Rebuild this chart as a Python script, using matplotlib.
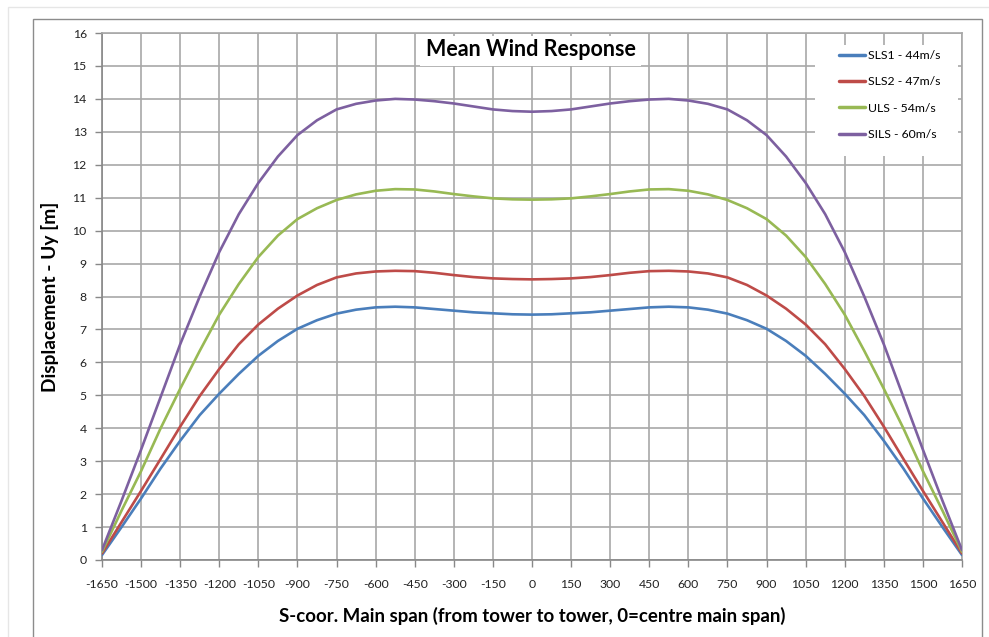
#!/usr/bin/env python3
"""Mean wind response of the main span: lateral displacement Uy along the span."""

import matplotlib
matplotlib.use("Agg")
import matplotlib.pyplot as plt
from matplotlib.patches import Rectangle

# S-coordinate along the main span [m], 75 m steps
s_coor = [-1650, -1575, -1500, -1425, -1350, -1275, -1200, -1125, -1050, -975,
          -900, -825, -750, -675, -600, -525, -450, -375, -300, -225, -150, -75,
          0, 75, 150, 225, 300, 375, 450, 525, 600, 675, 750, 825, 900, 975,
          1050, 1125, 1200, 1275, 1350, 1425, 1500, 1575, 1650]

# displacement Uy [m]
uy_sls1 = [0.15, 1.00, 1.87, 2.78, 3.62, 4.40, 5.05, 5.65, 6.20, 6.65,
           7.02, 7.28, 7.48, 7.60, 7.67, 7.69, 7.67, 7.62, 7.57, 7.52, 7.49, 7.46,
           7.45, 7.46, 7.49, 7.52, 7.57, 7.62, 7.67, 7.69, 7.67, 7.60, 7.48, 7.28,
           7.02, 6.65, 6.20, 5.65, 5.05, 4.40, 3.62, 2.78, 1.87, 1.00, 0.15]
uy_sls2 = [0.20, 1.15, 2.10, 3.07, 4.05, 4.98, 5.80, 6.55, 7.15, 7.63,
           8.03, 8.35, 8.58, 8.70, 8.76, 8.78, 8.77, 8.72, 8.65, 8.59, 8.55, 8.53,
           8.52, 8.53, 8.55, 8.59, 8.65, 8.72, 8.77, 8.78, 8.76, 8.70, 8.58, 8.35,
           8.03, 7.63, 7.15, 6.55, 5.80, 4.98, 4.05, 3.07, 2.10, 1.15, 0.20]
uy_uls = [0.25, 1.50, 2.70, 4.00, 5.20, 6.35, 7.45, 8.38, 9.20, 9.85,
          10.35, 10.68, 10.93, 11.10, 11.21, 11.26, 11.25, 11.19, 11.11, 11.04, 10.98, 10.95,
          10.94, 10.95, 10.98, 11.04, 11.11, 11.19, 11.25, 11.26, 11.21, 11.10, 10.93, 10.68,
          10.35, 9.85, 9.20, 8.38, 7.45, 6.35, 5.20, 4.00, 2.70, 1.50, 0.25]
uy_sils = [0.30, 1.80, 3.35, 4.95, 6.55, 8.00, 9.35, 10.50, 11.45, 12.25,
           12.90, 13.35, 13.68, 13.85, 13.95, 14.00, 13.98, 13.93, 13.86, 13.77, 13.68, 13.63,
           13.61, 13.63, 13.68, 13.77, 13.86, 13.93, 13.98, 14.00, 13.95, 13.85, 13.68, 13.35,
           12.90, 12.25, 11.45, 10.50, 9.35, 8.00, 6.55, 4.95, 3.35, 1.80, 0.30]

series_labels = ["SLS1 - 44m/s", "SLS2 - 47m/s", "ULS - 54m/s", "SILS - 60m/s"]
series_colors = ["#4A7EBB", "#BE4B48", "#98B954", "#7D60A0"]

x_ticks = list(range(-1650, 1651, 150))
y_ticks = list(range(0, 17))

plt.rcParams["font.family"] = ["Lato", "DejaVu Sans"]
plt.rcParams["axes.unicode_minus"] = False

W, H = 989, 637
fig = plt.figure(figsize=(W / 100, H / 100), dpi=100)
fig.patch.set_facecolor("white")

# chart-area frames
fig.patches.append(Rectangle((8 / W, -0.1), 1.2, 1.1 - 7 / H, transform=fig.transFigure,
                             fill=False, edgecolor="#e6e6e6", linewidth=1.0))
fig.patches.append(Rectangle((33 / W, -0.1), (982 - 33) / W, 1.1 - 19 / H,
                             transform=fig.transFigure, fill=False,
                             edgecolor="#8c8c8c", linewidth=1.0))

ax = fig.add_axes([102 / W, 1 - 560 / H, (962 - 102) / W, (560 - 33) / H])
ax.set_axisbelow(True)

for uy, label, color in zip([uy_sls1, uy_sls2, uy_uls, uy_sils], series_labels, series_colors):
    ax.plot(s_coor, uy, color=color, linewidth=1.9, label=label, zorder=3,
            solid_capstyle="round", solid_joinstyle="round")

ax.set_xlim(-1650, 1650)
ax.set_ylim(0, 16)
ax.set_xticks(x_ticks)
ax.set_yticks(y_ticks)
ax.tick_params(axis="both", labelsize=8.8, color="#888888", length=5, width=1.0,
               labelcolor="#222222")
ax.tick_params(axis="y", pad=6)
ax.tick_params(axis="x", pad=9)
ax.grid(True, color="#a8a8a8", linewidth=1.2)
for sp in ax.spines.values():
    sp.set_color("#a8a8a8")
    sp.set_linewidth(1.2)
ax.spines["left"].set_color("#888888")
ax.spines["bottom"].set_color("#888888")

ax.set_xlabel("S-coor. Main span (from tower to tower, 0=centre main span)",
              fontsize=13.4, fontweight="bold", labelpad=12)
ax.set_ylabel("Displacement - Uy [m]", fontsize=13.8, fontweight="bold", labelpad=10)

# white boxes behind title and legend, as in the spreadsheet chart
ax.add_patch(Rectangle(((420 - 102) / 860, (560 - 66) / 527), (641 - 420) / 860, 30 / 527,
                       transform=ax.transAxes, facecolor="white", edgecolor="none", zorder=2))
ax.add_patch(Rectangle(((815 - 102) / 860, (560 - 156) / 527), (958 - 815) / 860, 111 / 527,
                       transform=ax.transAxes, facecolor="white", edgecolor="none", zorder=2))

ax.text((531 - 102) / 860, (560 - 50) / 527, "Mean Wind Response", transform=ax.transAxes,
        ha="center", va="center", fontsize=15.5, fontweight="bold", zorder=4)

leg = ax.legend(loc="upper left", bbox_to_anchor=((839 - 102) / 860, (560 - 50) / 527),
                frameon=False, fontsize=8.8, handlelength=2.1, handletextpad=0.25,
                labelspacing=1.25, borderpad=0, borderaxespad=0)
for line in leg.get_lines():
    line.set_linewidth(2.5)

fig.savefig("out.png", dpi=100)
